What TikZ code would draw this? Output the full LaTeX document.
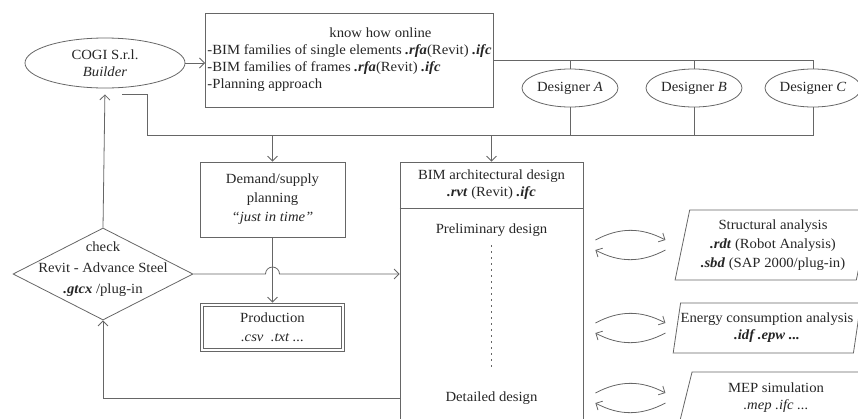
\documentclass[tikz,border=0pt]{standalone}
\usepackage{fontspec}
\setmainfont[FakeStretch=1.05]{Liberation Serif}
\usetikzlibrary{shapes.geometric,arrows.meta,calc}
\definecolor{linegray}{gray}{0.4}
\definecolor{textgray}{gray}{0.15}
\newcommand{\ext}[1]{\textbf{\textit{#1}}}
\begin{document}
\begin{tikzpicture}[x=1pt,y=-1pt,line width=0.8pt,color=linegray,text=textgray,
  font=\fontsize{14}{17}\selectfont,
  arr/.style={-{Straight Barb[length=5pt,width=10pt]}},
  box/.style={draw,rectangle,align=center,inner sep=2pt},
  oval/.style={draw,ellipse,align=center,inner sep=0pt},
  para/.style={draw,trapezium,trapezium left angle=76,trapezium right angle=104,
    trapezium stretches=true,align=center,inner sep=0pt}]
\useasboundingbox (0,0) rectangle (858,418);
\clip (0,0) rectangle (858,418);

\node[oval,minimum width=160pt,minimum height=50pt] (cogi) at (105,63) {COGI S.r.l.\\\textit{Builder}};
\node[box,align=left,minimum width=287pt,minimum height=94pt] (know) at (349.5,60)
  {\hspace*{122pt}know how online\\-BIM families of single elements \ext{.rfa}(Revit) \ext{.ifc}\\
   -BIM families of frames \ext{.rfa}(Revit) \ext{.ifc}\\-Planning approach};
\foreach \d/\x in {A/570,B/694,C/813}
  \node[oval,minimum width=96pt,minimum height=38pt] (d\d) at (\x,88) {Designer \textit{\d}};

\node[box,minimum width=145pt,minimum height=75pt] (demand) at (272.5,199.5)
  {Demand/supply\\[2pt]planning\\[2pt]\textit{``just in time''}};
\node[box,double,double distance=2.5pt,minimum width=141pt,minimum height=45pt] (prod) at (272.5,327.5)
  {Production\\[2pt]\textit{.csv\ \ .txt ...}};

\node[draw,diamond,minimum width=180pt,minimum height=92pt,inner sep=0pt] (check) at (103,274) {};
\node[align=center] (checktext) at ([yshift=5pt]check.center)
  {check\\[4pt]Revit - Advance Steel\\[4pt]\ext{.gtcx} /plug-in};

\node[draw,minimum width=183pt,minimum height=280pt] (bim) at (491.5,302) {};
\draw ([yshift=-47pt]bim.north west) -- ([yshift=-47pt]bim.north east);
\node[align=center] (bimtitle) at (491.5,185) {BIM architectural design\\\ext{.rvt} (Revit) \ext{.ifc}};
\node (prelim) at (491.5,230) {Preliminary design};
\node (detail) at (491.5,398) {Detailed design};
\draw[dash pattern=on 2pt off 4pt,shorten <=5pt,shorten >=17pt] (prelim.south) -- (detail.north);

\node[para,minimum width=196pt,minimum height=70pt] (struct) at (773,245)
  {Structural analysis\\[2pt]\ext{.rdt} (Robot Analysis)\\[2pt]\ext{.sbd} (SAP 2000/plug-in)};
\node[para,minimum width=184pt,minimum height=50pt] (energy) at (767,328)
  {Energy consumption analysis\\\ext{.idf .epw ...}};
\node[para,minimum width=194pt,minimum height=52pt] (mep) at (776,398)
  {MEP simulation\\\textit{.mep .ifc ...}};

\coordinate (bus) at (147,135);
\coordinate (cogiout) at (122,94);

\draw[arr] (cogi.east) -- (cogi.east -| know.west);
\draw (know.east) -| (dC.north);
\draw (dA.north) -- (dA.north |- know.east);
\draw (dB.north) -- (dB.north |- know.east);
\draw (dC.south) |- (bus) |- (cogiout);
\draw (dA.south) -- (dA.south |- bus);
\draw (dB.south) -- (dB.south |- bus);
\draw[arr] (demand.north |- bus) -- (demand.north);
\draw[arr] (bim.north |- bus) -- (bim.north);
\draw[arr,shorten >=2pt] (demand.south) -- (prod.north);
\draw[arr] (check.east) -- ($(demand.south |- check.east)+(-7,0)$)
  arc[start angle=180,end angle=0,radius=7pt] -- (check.east -| bim.west);
\draw[arr] (bim.west |- detail) -| (check.south);
\draw[arr,shorten >=6pt] (check.north) -- (cogi.south);

\foreach \n in {struct,energy,mep}{
  \draw[arr] ($(bim.east |- \n.west)+(12,-5)$) to[bend left=28] ($(bim.east |- \n.west)+(82,-5)$);
  \draw[arr] ($(bim.east |- \n.west)+(82,5)$) to[bend left=28] ($(bim.east |- \n.west)+(12,5)$);
}
\end{tikzpicture}
\end{document}
